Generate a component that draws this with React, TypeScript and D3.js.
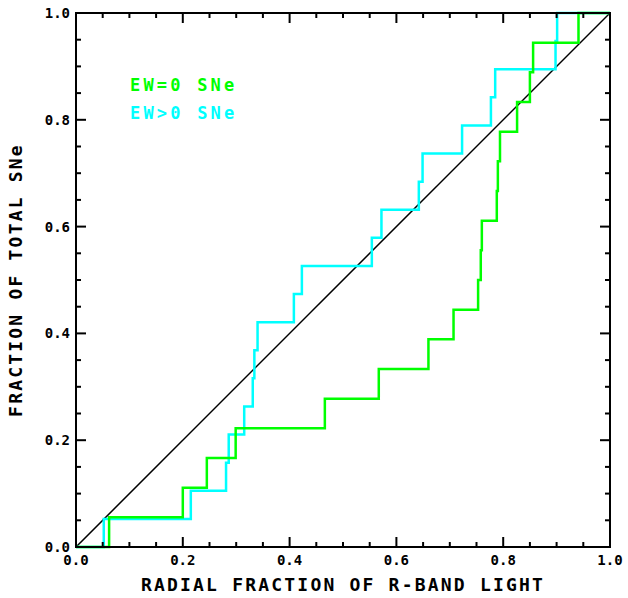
import React from 'react';
import * as d3 from 'd3';

// step positions (radial fraction where cumulative count increments)
const ew0X = [0.062, 0.2, 0.245, 0.299, 0.466, 0.567, 0.66, 0.707, 0.753, 0.758, 0.76, 0.788, 0.79, 0.794, 0.826, 0.85, 0.856, 0.941];
const ewPosX = [0.052, 0.215, 0.281, 0.286, 0.315, 0.331, 0.334, 0.34, 0.408, 0.423, 0.554, 0.572, 0.642, 0.649, 0.723, 0.777, 0.785, 0.898, 0.901];
const majorTicks = [0, 0.2, 0.4, 0.6, 0.8, 1.0];
const minorTicks = d3.range(0, 1.0001, 0.05);

const W = 628, H = 598;
const FONT = '"DejaVu Sans Mono", monospace';

function cumPoints(xs: number[]): [number, number][] {
  const n = xs.length;
  const pts: [number, number][] = [[0, 0]];
  xs.forEach((x, i) => {
    pts.push([x, i / n]);
    pts.push([x, (i + 1) / n]);
  });
  pts.push([1, 1]);
  return pts;
}

export default function App() {
  const x = d3.scaleLinear().domain([0, 1]).range([76, 610]);
  const y = d3.scaleLinear().domain([0, 1]).range([547, 13]);
  const line = d3.line<[number, number]>().x(d => x(d[0])).y(d => y(d[1]));
  const [x0, x1] = x.range();
  const [y0, y1] = y.range();

  return (
    <svg width={W} height={H} style={{ display: 'block', position: 'absolute', left: 0, top: 0 }}>
      <rect width={W} height={H} fill="#fff" />
      <line x1={x(0)} y1={y(0)} x2={x(1)} y2={y(1)} stroke="#000" strokeWidth={1.5} />
      <path d={line(cumPoints(ewPosX))!} fill="none" stroke="#00ffff" strokeWidth={2.5} />
      <path d={line(cumPoints(ew0X))!} fill="none" stroke="#00ff00" strokeWidth={2.5} />
      <rect x={x0} y={y1} width={x1 - x0} height={y0 - y1} fill="none" stroke="#000" strokeWidth={2} />
      {minorTicks.map((t, i) => {
        const major = majorTicks.some(mt => Math.abs(mt - t) < 1e-6);
        const len = major ? 10 : 5;
        return (
          <g key={i} stroke="#000" strokeWidth={2}>
            <line x1={x(t)} x2={x(t)} y1={y0} y2={y0 - len} />
            <line x1={x(t)} x2={x(t)} y1={y1} y2={y1 + len} />
            <line y1={y(t)} y2={y(t)} x1={x0} x2={x0 + len} />
            <line y1={y(t)} y2={y(t)} x1={x1} x2={x1 - len} />
          </g>
        );
      })}
      {majorTicks.map((t, i) => (
        <g key={i} fontFamily={FONT} fontWeight="bold" fontSize={14} fill="#000">
          <text x={x(t)} y={y0 + 18} textAnchor="middle">{t.toFixed(1)}</text>
          <text x={x0 - 6} y={y(t) + 5} textAnchor="end">{t.toFixed(1)}</text>
        </g>
      ))}
      <text x={(x0 + x1) / 2} y={591} textAnchor="middle" fontFamily={FONT} fontWeight="bold" fontSize={18} letterSpacing={2.2}>RADIAL FRACTION OF R-BAND LIGHT</text>
      <text transform={`translate(22,${(y0 + y1) / 2}) rotate(-90)`} textAnchor="middle" fontFamily={FONT} fontWeight="bold" fontSize={18} letterSpacing={2.2}>FRACTION OF TOTAL SNe</text>
      <text x={130} y={91} fill="#00ff00" fontFamily={FONT} fontWeight="bold" fontSize={17} letterSpacing={3.2}>EW=0 SNe</text>
      <text x={130} y={119} fill="#00ffff" fontFamily={FONT} fontWeight="bold" fontSize={17} letterSpacing={3.2}>EW&gt;0 SNe</text>
    </svg>
  );
}
